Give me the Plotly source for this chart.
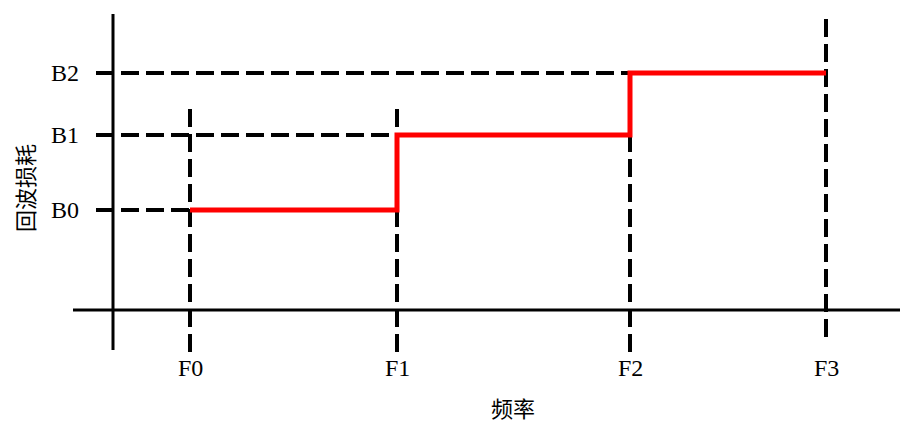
import plotly.graph_objects as go

# schematic values (arbitrary units, origin at the axis cross)
freq_labels = ["F0", "F1", "F2", "F3"]
freq_values = [0.77, 2.84, 5.17, 7.13]
loss_labels = ["B0", "B1", "B2"]
loss_values = [1.00, 1.75, 2.37]

X_TITLE = "频率"
Y_TITLE = "回波损耗"

SERIF = "Liberation Serif, Times New Roman, serif"
CJK = "Noto Sans CJK SC, sans-serif"
DASH = "18px,7px"

fig = go.Figure()

# red step curve: each band holds its level until the next frequency
step_x = freq_values
step_y = loss_values + [loss_values[-1]]
fig.add_trace(go.Scatter(
    x=step_x, y=step_y, mode="lines", line_shape="hv",
    line=dict(color="#ff0000", width=5), showlegend=False, hoverinfo="skip",
))

# axis cross lines
fig.add_shape(type="line", x0=-0.40, x1=8.0, y0=0, y1=0,
              line=dict(color="black", width=3), layer="below")
fig.add_shape(type="line", x0=0, x1=0, y0=-0.40, y1=2.96,
              line=dict(color="black", width=3), layer="below")

# horizontal dashed guides from the y axis to where each level starts
for i, b in enumerate(loss_values):
    fig.add_shape(type="line", x0=-0.17, x1=freq_values[i], y0=b, y1=b,
                  line=dict(color="black", width=4, dash=DASH), layer="below")

# vertical dashed guides
v_tops = [loss_values[1] + 0.27, loss_values[1] + 0.27, loss_values[2], 2.92]
v_bottoms = [-0.42, -0.42, -0.42, -0.27]
for f, top, bot in zip(freq_values, v_tops, v_bottoms):
    fig.add_shape(type="line", x0=f, x1=f, y0=bot, y1=top,
                  line=dict(color="black", width=4, dash=DASH), layer="below")

# tick labels
for lab, f in zip(freq_labels, freq_values):
    fig.add_annotation(x=f, y=-0.58, text=lab, showarrow=False,
                       font=dict(family=SERIF, size=24, color="black"))
for lab, b in zip(loss_labels, loss_values):
    fig.add_annotation(x=-0.32, y=b, text=lab, showarrow=False, xanchor="right",
                       font=dict(family=SERIF, size=24, color="black"))

# axis titles
fig.add_annotation(x=4.0, y=-0.97, text=X_TITLE, showarrow=False,
                   font=dict(family=CJK, size=22, color="black"))
fig.add_annotation(x=-0.89, y=1.22, text=Y_TITLE, showarrow=False, textangle=-90,
                   font=dict(family=CJK, size=22, color="black"))

# page body keeps an 8px margin, so the figure is 8px smaller each way
fig.update_layout(
    width=900, height=416,
    margin=dict(l=0, r=0, t=0, b=0),
    plot_bgcolor="white", paper_bgcolor="white",
    xaxis=dict(range=[-1.05, 7.95], visible=False, fixedrange=True),
    yaxis=dict(range=[-1.14, 3.02], visible=False, fixedrange=True),
)

fig.write_html("out.html")
